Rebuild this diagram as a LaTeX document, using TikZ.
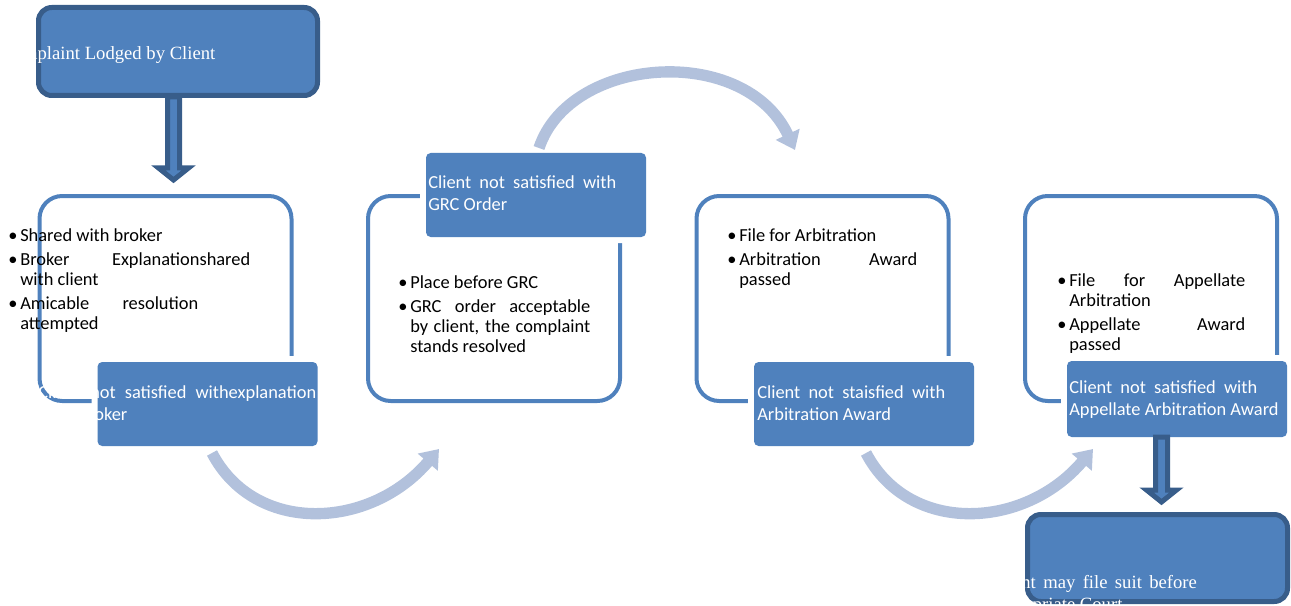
\documentclass[tikz,border=0pt]{standalone}
\usepackage{fontspec}
\setmainfont{Liberation Serif}
\newfontfamily\calib{Carlito}
\usetikzlibrary{calc,arrows.meta}
\definecolor{boxblue}{RGB}{79,129,189}
\definecolor{boxdark}{RGB}{56,93,138}
\definecolor{arcblue}{RGB}{178,193,220}

\newcommand{\bul}{\makebox[9pt][l]{\textbullet}}
\newcommand{\ind}{\hspace*{9pt}}
\newcommand{\spr}[2]{\makebox[#1][s]{#2}}
\newcommand{\blockdown}[2]{%
  \draw[blockarrow] ($(#1)+(-6,0)$) -- ($(#2)+(-6,-12)$) -- ($(#2)+(-15,-12)$) -- (#2)
    -- ($(#2)+(15,-12)$) -- ($(#2)+(6,-12)$) -- ($(#1)+(6,0)$) -- cycle;}

\tikzset{
  darkbox/.style={draw=boxdark, fill=boxblue, line width=3.75pt, rounded corners=10pt},
  framebox/.style={draw=boxblue, line width=3pt, rounded corners=17pt,
    minimum width=189pt, minimum height=153.75pt},
  notebox/.style={fill=boxblue, rounded corners=3.5pt, minimum width=165pt, minimum height=63pt,
    preaction={draw=white, line width=9pt}},
  blockarrow/.style={draw=boxdark, fill=boxblue, line width=3.75pt},
  bendarrow/.style={draw=arcblue, line width=8.5pt, -{Triangle[width=19pt,length=13pt]}},
  % multi-line nodes: base = last line
  listtext/.style={inner sep=0pt, anchor=base west, align=left,
    font=\calib\fontsize{13.8}{15}\selectfont},
  notetext/.style={inner sep=0pt, anchor=base west, align=left, text=white,
    font=\calib\fontsize{13.8}{16}\selectfont},
  serftext/.style={inner sep=0pt, anchor=base west, align=left, text=white,
    font=\fontsize{14}{16}\selectfont},
}

\begin{document}
\begin{tikzpicture}[x=0.75pt, y=-0.75pt]
  \useasboundingbox (0,0) rectangle (1291,606);

  % outlined stage boxes
  \node[framebox] (stage1) at (165.5,298.5) {};
  \node[framebox] (stage2) at (494,298.5) {};
  \node[framebox] (stage3) at (822.5,298.5) {};
  \node[framebox] (stage4) at (1151,298.5) {};

  % filled notes on the stage boxes
  \node[notebox] (note1) at (207.5,404) {};
  \node[notebox] (note2) at (536,195) {};
  \node[notebox] (note3) at (864,404) {};
  \node[notebox, minimum height=57pt] (note4) at (1177,399) {};

  % start and end boxes
  \node[darkbox, minimum width=209.25pt, minimum height=66pt] (lodged) at (178,51.5) {};
  \node[darkbox, minimum width=195pt, minimum height=65.25pt] (court) at (1157.5,558) {};

  % block arrows
  \coordinate (dropAtop) at (173.5,97);
  \coordinate (dropAtip) at (173.5,180);
  \coordinate (dropBtop) at (1161.5,437);
  \coordinate (dropBtip) at (1161.5,502);
  \blockdown{dropAtop}{dropAtip}
  \blockdown{dropBtop}{dropBtip}

  % curved arrows
  \coordinate (bendAs) at (212,453);
  \coordinate (bendAe) at (439,449);
  \coordinate (bendBs) at (539,148);
  \coordinate (bendBe) at (795,150);
  \coordinate (bendCs) at (866,453);
  \coordinate (bendCe) at (1093,449);
  \draw[bendarrow] (bendAs) .. controls (255,535) and (370,530) .. (bendAe);
  \draw[bendarrow] (bendBs) .. controls (570,55) and (745,43) .. (bendBe);
  \draw[bendarrow] (bendCs) .. controls (909,535) and (1024,530) .. (bendCe);

  % bullet lists
  \node[listtext] (list1) at (8,329) {\bul Shared with broker\\[3pt]
    \bul\spr{172.5pt}{Broker Explanationshared}\\
    \ind with client\\[3pt]
    \bul\spr{133.5pt}{Amicable resolution}\\
    \ind attempted};
  \node[listtext] (list2) at (398,352) {\bul Place before GRC\\[3pt]
    \bul\spr{135pt}{GRC order acceptable}\\
    \ind\spr{135pt}{by client, the complaint}\\
    \ind stands resolved};
  \node[listtext] (list3) at (727,285) {\bul File for Arbitration\\[3pt]
    \bul\spr{133.5pt}{Arbitration Award}\\
    \ind passed};
  \node[listtext] (list4) at (1057,350) {\bul\spr{132pt}{File for Appellate}\\
    \ind Arbitration\\[3pt]
    \bul\spr{132pt}{Appellate Award}\\
    \ind passed};

  % white texts
  \node[notetext] (text1) at (38,420) {\spr{208.5pt}{Client not satisfied withexplanation}\\from broker};
  \node[notetext] (text2) at (428,210) {\spr{141pt}{Client not satisfied with}\\GRC Order};
  \node[notetext] (text3) at (757,420) {\spr{141pt}{Client not staisfied with}\\Arbitration Award};
  \node[notetext] (text4) at (1069,415) {\spr{141pt}{Client not satisfied with}\\Appellate Arbitration Award};
  \node[serftext] (textTop) at (1,60) {Complaint Lodged by Client};
  \node[serftext] (textEnd) at (990,610) {\spr{155pt}{Client may file suit before}\\appropriate Court};
\end{tikzpicture}
\end{document}
